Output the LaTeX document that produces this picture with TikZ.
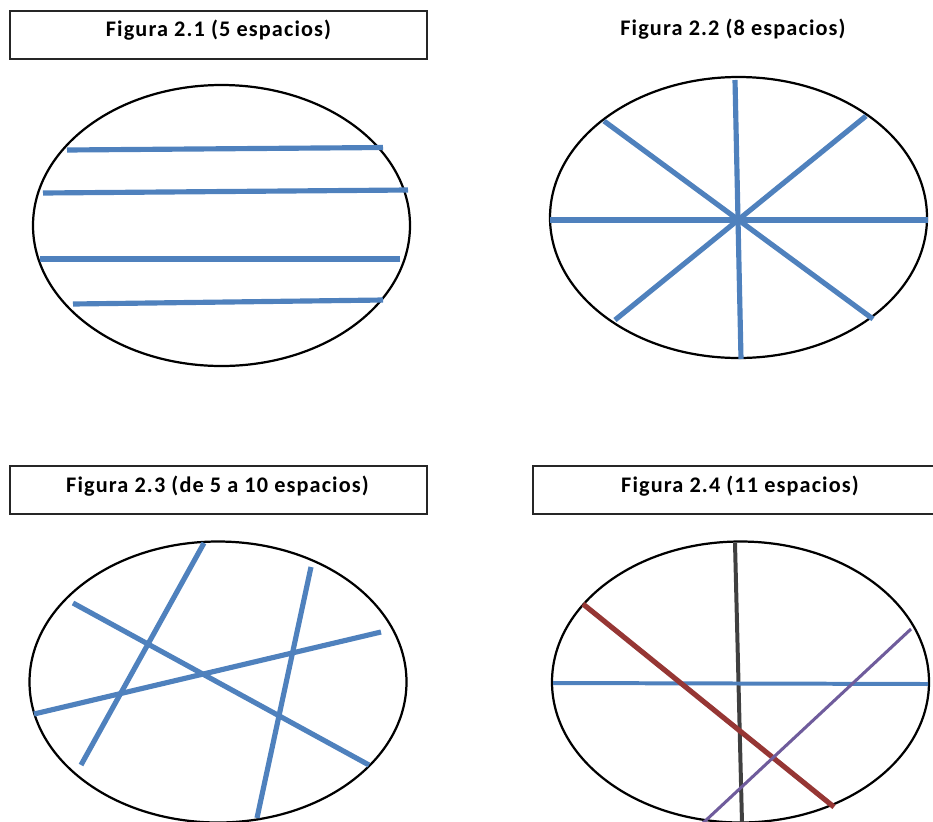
\documentclass[tikz,border=0pt]{standalone}
\usepackage{fontspec}
\setmainfont{Carlito}
\newfontfamily\capfont[LetterSpace=5]{Carlito}
\usepackage{xcolor}
\usetikzlibrary{positioning}
\definecolor{spblue}{HTML}{4F81BD}
\definecolor{spred}{HTML}{963634}
\definecolor{sppurple}{HTML}{6F5C9C}
\definecolor{spgray}{HTML}{404040}

\begin{document}
\begin{tikzpicture}[
   x=0.3mm,y=-0.3mm,
   frame/.style={draw=black!85,line width=1.5pt,minimum height=14.4mm,
                 inner sep=0pt},
   caption/.style={font=\capfont\bfseries\fontsize{19}{22}\selectfont,
                   anchor=base,inner sep=0pt},
   rim/.style={draw=black,line width=1.9pt},
   chord/.style={spblue,line width=4.4pt}]
  \useasboundingbox (0,0) rectangle (933,821);
  \clip (0,0) rectangle (933,821);
  % titles
  \node[frame,minimum width=125.1mm] (box1) at (218.5,35) {};
  \node[caption] (cap1) at (218.5,36) {Figura 2.1 (5 espacios)};
  \node[caption] (cap2) at (733,35) {Figura 2.2 (8 espacios)};
  \node[frame,minimum width=125.1mm] (box3) at (218.5,490) {};
  \node[caption] (cap3) at (217.5,492) {Figura 2.3 (de 5 a 10 espacios)};
  \node[frame,minimum width=123.6mm] (box4) at (739,490) {};
  \node[caption] (cap4) at (740,492) {Figura 2.4 (11 espacios)};
  % figura 2.1
  \draw[rim] (221.5,225.5) ellipse [x radius=188.5,y radius=140.5];
  \foreach \xa/\ya/\xb/\yb in {67/150/383/147.5, 43/193/408/190,
      40/259/400/259, 73/304/383/300}
    \draw[chord] (\xa,\ya) -- (\xb,\yb);
  % figura 2.2
  \draw[rim] (738.5,217.5) ellipse [x radius=188.5,y radius=140.5];
  \draw[chord] (735,80) -- (741,359);
  \draw[chord] (550,220) -- (928,220);
  \draw[chord] (604,121) -- (873,319);
  \draw[chord] (866,116) -- (615,320);
  % figura 2.3
  \draw[rim] (218,682) ellipse [x radius=188.5,y radius=140.5];
  \draw[chord] (204,543) -- (81,765);
  \draw[chord] (311,567) -- (257,818);
  \draw[chord] (73,603) -- (369,765);
  \draw[chord] (34,714) -- (381,632);
  % figura 2.4
  \draw[rim] (740.5,682) ellipse [x radius=188.5,y radius=140.5];
  \draw[spgray,line width=3.4pt] (735,543) -- (742,823);
  \draw[chord,line width=3.4pt] (553,683) -- (928,684);
  \draw[spred,line width=4.4pt] (583,604) -- (834,807);
  \draw[sppurple,line width=2.6pt] (911,629) -- (703,823);
\end{tikzpicture}
\end{document}
